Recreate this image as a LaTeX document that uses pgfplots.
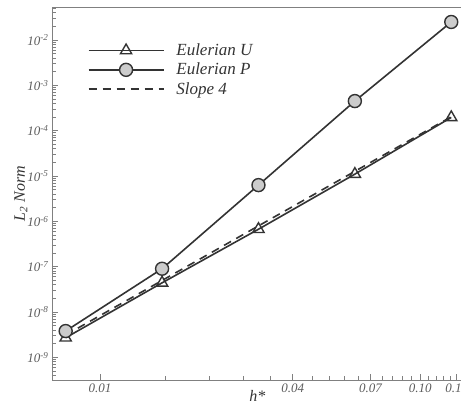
\documentclass[border=0pt]{standalone}
\usepackage{pgfplots}
\pgfplotsset{compat=1.18}
\usepackage{fontspec}
\setmainfont{Liberation Serif}
\definecolor{ln}{HTML}{333333}
\definecolor{ax}{HTML}{808080}
\definecolor{cf}{HTML}{CCCCCC}
\begin{document}
\begin{tikzpicture}
\useasboundingbox (-52pt,-30pt) rectangle (409pt,380pt);
\clip (-52pt,-30pt) rectangle (409pt,380pt);
\begin{axis}[
  at={(0pt,0pt)}, anchor=south west,
  scale only axis, width=411pt, height=373pt,
  xmode=log, ymode=log,
  xmin=0.00708, xmax=0.136,
  ymin=3.16e-10, ymax=0.0535,
  xtick={0.01,0.04,0.07,0.10,0.13},
  xticklabels={\textit{0.01},\textit{0.04},\textit{0.07},\textit{0.10},\textit{0.13}},
  minor xtick={0.016,0.022,0.028,0.034,0.046,0.052,0.058,0.064,0.076,0.082,0.088,0.094,0.106,0.112,0.118,0.124},
  ytick={1e-9,1e-8,1e-7,1e-6,1e-5,1e-4,1e-3,1e-2},
  yticklabels={\textit{10\textsuperscript{-9}},\textit{10\textsuperscript{-8}},\textit{10\textsuperscript{-7}},\textit{10\textsuperscript{-6}},\textit{10\textsuperscript{-5}},\textit{10\textsuperscript{-4}},\textit{10\textsuperscript{-3}},\textit{10\textsuperscript{-2}}},
  minor ytick={4e-10,5e-10,6e-10,7e-10,8e-10,9e-10,
    2e-9,3e-9,4e-9,5e-9,6e-9,7e-9,8e-9,9e-9,
    2e-8,3e-8,4e-8,5e-8,6e-8,7e-8,8e-8,9e-8,
    2e-7,3e-7,4e-7,5e-7,6e-7,7e-7,8e-7,9e-7,
    2e-6,3e-6,4e-6,5e-6,6e-6,7e-6,8e-6,9e-6,
    2e-5,3e-5,4e-5,5e-5,6e-5,7e-5,8e-5,9e-5,
    2e-4,3e-4,4e-4,5e-4,6e-4,7e-4,8e-4,9e-4,
    2e-3,3e-3,4e-3,5e-3,6e-3,7e-3,8e-3,9e-3,
    2e-2,3e-2,4e-2,5e-2},
  xtick pos=bottom, ytick pos=left,
  tick align=inside,
  major tick length=6pt, minor tick length=4pt,
  axis line style={ax, line width=0.9pt},
  every tick/.style={ax, line width=0.8pt},
  tick label style={font=\fontsize{13}{13}\selectfont, text=ln!80},
  xlabel={\textit{h*}},
  ylabel={\textit{L\textsubscript{2} Norm}},
  label style={font=\fontsize{16}{16}\selectfont, text=ln},
  xlabel style={at={(axis description cs:0.5,0)}, anchor=north, yshift=-7pt},
  ylabel style={at={(axis description cs:0,0.5)}, anchor=south, yshift=21pt},
  legend style={at={(axis description cs:0.0866,0.907)}, anchor=north west,
    draw=none, fill=none, inner sep=0pt,
    font=\fontsize{17}{17}\selectfont\itshape, text=ln,
    row sep=2pt,
    /tikz/every odd column/.append style={column sep=10pt}},
  legend cell align=left,
  legend image code/.code={\draw[mark repeat=2,mark phase=2,#1] plot coordinates {(0pt,0pt) (37.5pt,0pt) (75pt,0pt)};},
]
\addplot[ln, line width=1.6pt, mark=triangle, mark size=6.5pt, mark options={fill=white, solid, line width=1.4pt}]
  coordinates {(0.0078125,2.7e-9) (0.015625,4.4e-8) (0.03125,6.7e-7) (0.0625,1.1e-5) (0.125,1.96e-4)};
\addlegendentry{Eulerian U}
\addplot[ln, line width=1.6pt, mark=*, mark size=6.5pt, mark options={fill=cf, solid, line width=1.4pt}]
  coordinates {(0.0078125,3.8e-9) (0.015625,9e-8) (0.03125,6.3e-6) (0.0625,4.5e-4) (0.125,2.5e-2)};
\addlegendentry{Eulerian P}
\addplot[ln, line width=1.6pt, dash pattern=on 8pt off 6pt]
  coordinates {(0.0078125,3.1e-9) (0.125,2.03e-4)};
\addlegendentry{Slope 4}
\end{axis}
\end{tikzpicture}
\end{document}
